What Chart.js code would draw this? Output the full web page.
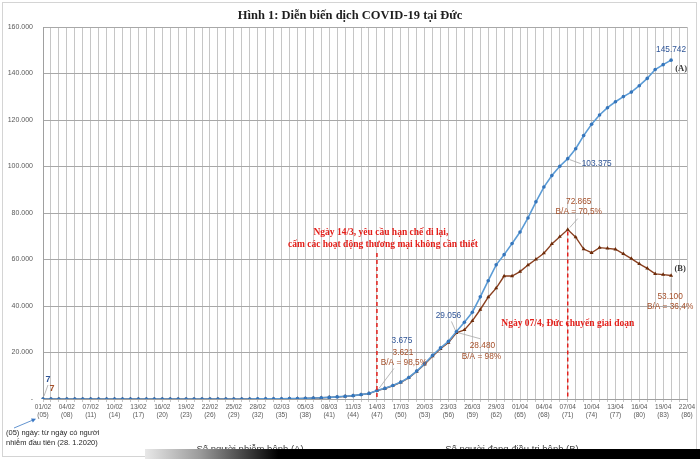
<!DOCTYPE html>
<html>
<head>
<meta charset="utf-8">
<title>Diễn biến dịch COVID-19 tại Đức</title>
<script src="https://cdn.jsdelivr.net/npm/chart.js@4.4.1/dist/chart.umd.min.js"></script>
<style>
    html, body { margin: 0; padding: 0; background: #fff; }
    #wrap { position: relative; width: 700px; height: 459px; overflow: hidden; }
    #frame { position: absolute; left: 2px; top: 2px; width: 695px; height: 455px; border: 1px solid #d4d4d4; box-sizing: border-box; pointer-events: none; }
    #bar { position: absolute; left: 145px; top: 449px; width: 555px; height: 10px; background: linear-gradient(to right, #e8e8e8 0%, #9a9a9a 10%, #000 24%, #000 100%); }
</style>
</head>
<body>
<div id="wrap">
    <canvas id="chart" width="700" height="459"></canvas>
    <div id="frame"></div>
    <div id="bar"></div>
</div>
<script>
// ngày (01/02 -> 22/04)
const dates = [
    "01/02","02/02","03/02","04/02","05/02","06/02","07/02","08/02","09/02","10/02",
    "11/02","12/02","13/02","14/02","15/02","16/02","17/02","18/02","19/02","20/02",
    "21/02","22/02","23/02","24/02","25/02","26/02","27/02","28/02","29/02",
    "01/03","02/03","03/03","04/03","05/03","06/03","07/03","08/03","09/03","10/03",
    "11/03","12/03","13/03","14/03","15/03","16/03","17/03","18/03","19/03","20/03",
    "21/03","22/03","23/03","24/03","25/03","26/03","27/03","28/03","29/03","30/03","31/03",
    "01/04","02/04","03/04","04/04","05/04","06/04","07/04","08/04","09/04","10/04",
    "11/04","12/04","13/04","14/04","15/04","16/04","17/04","18/04","19/04","20/04",
    "21/04","22/04"
];

// nhãn trục x (mỗi 3 ngày) + số ngày kể từ ca nhiễm đầu tiên
const tickDates = ["01/02","04/02","07/02","10/02","13/02","16/02","19/02","22/02","25/02","28/02",
    "02/03","05/03","08/03","11/03","14/03","17/03","20/03","23/03","26/03","29/03",
    "01/04","04/04","07/04","10/04","13/04","16/04","19/04","22/04"];
const tickDays = ["(05)","(08)","(11)","(14)","(17)","(20)","(23)","(26)","(29)","(32)",
    "(35)","(38)","(41)","(44)","(47)","(50)","(53)","(56)","(59)","(62)",
    "(65)","(68)","(71)","(74)","(77)","(80)","(83)","(86)"];

// (A) số người nhiễm bệnh
const infected = [
    7, 8, 10, 12, 12, 12, 12, 13, 13, 14, 14, 16, 16, 16, 16, 16, 16, 16, 16, 16,
    16, 16, 16, 16, 16, 17, 27, 46, 48,
    79, 130, 159, 196, 262, 400, 550, 700, 900, 1150, 1450, 1900, 2400, 3675,
    4585, 5795, 7272, 9257, 12000, 15200, 18800, 22000, 24800, 29056,
    32986, 37323, 43938, 50871, 57695, 62095, 66885,
    71808, 77872, 84794, 91159, 96092, 100123, 103375, 107663, 113296, 118181,
    122171, 125300, 127854, 130072, 132000, 134753, 137900, 141700, 143800, 145742
];

// (B) số người đang điều trị bệnh
const active = [
    7, 8, 10, 12, 12, 12, 12, 13, 13, 13, 13, 15, 14, 14, 13, 12, 10, 9, 8, 6,
    5, 4, 3, 2, 2, 3, 13, 32, 33,
    63, 113, 141, 178, 244, 382, 530, 680, 880, 1125, 1420, 1860, 2350, 3621,
    4520, 5710, 7150, 9100, 11800, 14900, 18400, 21600, 24300, 28480,
    29700, 33600, 38500, 43800, 47700, 52900, 52900,
    54800, 57600, 60100, 62700, 66700, 69800, 72865, 69600, 64500, 62900,
    65100, 64800, 64400, 62400, 60400, 58100, 56200, 53800, 53500, 53100
];

const yTicks = [0, 20000, 40000, 60000, 80000, 100000, 120000, 140000, 160000];

const fmt = (n) => String(n).replace(/\B(?=(\d{3})+(?!\d))/g, ".");
const ratio = (i) => "B/A = " + (active[i] / infected[i] * 100).toFixed(1).replace(".", ",").replace(",0", "") + "%";

const tickAt = {};
tickDates.forEach((d, k) => { tickAt[d] = [d, tickDays[k]]; });

const BLUE_TXT = "#2f5597";
const BROWN_TXT = "#a5502a";
const RED = "#e3201b";

const annotate = {
    id: "annotate",
    afterDatasetsDraw(chart) {
        const { ctx, scales: { x, y } } = chart;
        const A = chart.getDatasetMeta(0).data;
        const B = chart.getDatasetMeta(1).data;
        const i14 = dates.indexOf("14/03");
        const i24 = dates.indexOf("24/03");
        const i07 = dates.indexOf("07/04");
        const iLast = infected.length - 1;

        const text = (s, px, py, color, font, align) => {
            ctx.font = font;
            ctx.fillStyle = color;
            ctx.textAlign = align || "center";
            ctx.textBaseline = "middle";
            ctx.fillText(s, px, py);
        };
        const leader = (x1, y1, x2, y2) => {
            ctx.beginPath();
            ctx.strokeStyle = "#a6a6a6";
            ctx.lineWidth = 0.8;
            ctx.setLineDash([]);
            ctx.moveTo(x1, y1);
            ctx.lineTo(x2, y2);
            ctx.stroke();
        };
        const small = '8.3px "Liberation Sans"';
        const redFont = 'bold 9.5px "Liberation Serif"';

        ctx.save();

        // red dashed markers
        ctx.strokeStyle = RED;
        ctx.lineWidth = 1.5;
        ctx.setLineDash([4, 3]);
        ctx.beginPath();
        ctx.moveTo(x.getPixelForValue(i14), 253);
        ctx.lineTo(x.getPixelForValue(i14), y.getPixelForValue(0));
        ctx.moveTo(x.getPixelForValue(i07), B[i07].y + 2);
        ctx.lineTo(x.getPixelForValue(i07), y.getPixelForValue(0));
        ctx.stroke();
        ctx.setLineDash([]);

        text("Ngày 14/3, yêu cầu hạn chế đi lại,", x.getPixelForValue(i14) + 4, 233, RED, redFont);
        text("cấm các hoạt động thương mại không cần thiết", x.getPixelForValue(i14) + 6, 245, RED, redFont);
        text("Ngày 07/4, Đức chuyển giai đoạn", x.getPixelForValue(i07), 324, RED, redFont);

        // first day
        leader(A[0].x + 1, A[0].y - 3, A[0].x + 5, A[0].y - 14);
        text(fmt(infected[0]), A[0].x + 5, A[0].y - 19, BLUE_TXT, 'bold 9px "Liberation Sans"');
        text(fmt(active[0]), A[0].x + 9, A[0].y - 10, BROWN_TXT, 'bold 9px "Liberation Sans"');

        // 14/03
        leader(A[i14].x + 2, A[i14].y - 2, A[i14].x + 17, A[i14].y - 22);
        text(fmt(infected[i14]), A[i14].x + 25, A[i14].y - 50, BLUE_TXT, small);
        text(fmt(active[i14]), A[i14].x + 26, A[i14].y - 38, BROWN_TXT, small);
        text(ratio(i14), A[i14].x + 27, A[i14].y - 28, BROWN_TXT, small);

        // 24/03
        leader(A[i24].x - 1, A[i24].y - 1, A[i24].x - 5, A[i24].y - 10);
        text(fmt(infected[i24]), A[i24].x - 8, A[i24].y - 16, BLUE_TXT, small);
        leader(B[i24].x + 2, B[i24].y, B[i24].x + 24, B[i24].y + 6);
        text(fmt(active[i24]), B[i24].x + 26, B[i24].y + 13, BROWN_TXT, small);
        text(ratio(i24), B[i24].x + 25, B[i24].y + 24, BROWN_TXT, small);

        // 07/04
        leader(A[i07].x + 2, A[i07].y + 1, A[i07].x + 13, A[i07].y + 5);
        text(fmt(infected[i07]), A[i07].x + 29, A[i07].y + 5, BLUE_TXT, small);
        leader(B[i07].x + 2, B[i07].y - 2, B[i07].x + 10, B[i07].y - 11);
        text(fmt(active[i07]), B[i07].x + 11, B[i07].y - 28, BROWN_TXT, small);
        text(ratio(i07), B[i07].x + 11, B[i07].y - 18, BROWN_TXT, small);

        // last day
        text(fmt(infected[iLast]), A[iLast].x, A[iLast].y - 10, BLUE_TXT, small);
        text("(A)", A[iLast].x + 10, A[iLast].y + 9, "#3a3a3a", 'bold 8.5px "Liberation Serif"');
        text("(B)", B[iLast].x + 9, B[iLast].y - 7, "#3a3a3a", 'bold 8.5px "Liberation Serif"');
        leader(B[iLast].x, B[iLast].y + 3, B[iLast].x, B[iLast].y + 15);
        text(fmt(active[iLast]), B[iLast].x - 1, B[iLast].y + 21, BROWN_TXT, small);
        text(ratio(iLast), B[iLast].x - 1, B[iLast].y + 31, BROWN_TXT, small);

        ctx.restore();
    },
    afterDraw(chart) {
        const { ctx } = chart;
        ctx.save();
        ctx.fillStyle = "#1f1f1f";
        ctx.font = 'bold 12.5px "Liberation Serif"';
        ctx.textAlign = "center";
        ctx.textBaseline = "middle";
        ctx.fillText("Hình 1: Diễn biến dịch COVID-19 tại Đức", 350, 16);

        // chú thích (05)
        ctx.font = '7.5px "Liberation Sans"';
        ctx.fillStyle = "#262626";
        ctx.textAlign = "left";
        ctx.fillText("(05) ngày: từ ngày có người", 6, 433);
        ctx.fillText("nhiễm đầu tiên (28. 1.2020)", 6, 443);

        ctx.strokeStyle = "#3b78c4";
        ctx.fillStyle = "#3b78c4";
        ctx.lineWidth = 0.8;
        ctx.beginPath();
        ctx.moveTo(14, 428);
        ctx.lineTo(33, 420);
        ctx.stroke();
        ctx.beginPath();
        ctx.moveTo(36, 418.8);
        ctx.lineTo(31, 418.6);
        ctx.lineTo(32.8, 422.6);
        ctx.closePath();
        ctx.fill();

        // chú giải (bị cắt ở đáy ảnh)
        ctx.fillStyle = "#404040";
        ctx.font = '9.5px "Liberation Sans"';
        ctx.textAlign = "center";
        ctx.fillText(chart.data.datasets[0].label, 250, 449);
        ctx.fillText(chart.data.datasets[1].label, 512, 449);
        ctx.restore();
    }
};

const ctx = document.getElementById("chart").getContext("2d");
new Chart(ctx, {
    type: "line",
    data: {
        labels: dates,
        datasets: [
            {
                label: "Số người nhiễm bệnh (A)",
                data: infected,
                borderColor: "#5b9bd5",
                borderWidth: 1.6,
                pointStyle: "circle",
                pointRadius: 1.8,
                pointBackgroundColor: "#3575bb",
                pointBorderWidth: 0,
                tension: 0
            },
            {
                label: "Số người đang điều trị bệnh (B)",
                data: active,
                borderColor: "#8a4020",
                borderWidth: 1.4,
                pointStyle: "triangle",
                pointRadius: 2.3,
                pointBackgroundColor: "#6b2a08",
                pointBorderWidth: 0,
                tension: 0
            }
        ]
    },
    options: {
        responsive: false,
        animation: false,
        layout: { padding: { top: 27, right: 13, left: 0, bottom: 0 } },
        plugins: {
            legend: { display: false },
            title: { display: false },
            tooltip: { enabled: false }
        },
        scales: {
            x: {
                grid: { color: "#c6c6c6", lineWidth: 1, tickLength: 3 },
                border: { color: "#a0a0a0" },
                ticks: {
                    autoSkip: false,
                    maxRotation: 0,
                    minRotation: 0,
                    padding: 2,
                    color: "#595959",
                    font: { family: "Liberation Sans", size: 6.5, lineHeight: 1.1 },
                    callback: (v, i) => tickAt[dates[i]] || ""
                },
                afterFit: (s) => { s.height = 60; }
            },
            y: {
                min: yTicks[0],
                max: yTicks[yTicks.length - 1],
                afterBuildTicks: (s) => { s.ticks = yTicks.map((v) => ({ value: v })); },
                grid: { color: "#a8a8a8", lineWidth: 1, drawTicks: false },
                border: { color: "#a0a0a0" },
                ticks: {
                    padding: 10,
                    color: "#595959",
                    font: { family: "Liberation Sans", size: 7 },
                    callback: (v) => (v === 0 ? "-" : fmt(v))
                },
                afterFit: (s) => { s.width = 43; }
            }
        }
    },
    plugins: [annotate]
});
</script>
</body>
</html>
